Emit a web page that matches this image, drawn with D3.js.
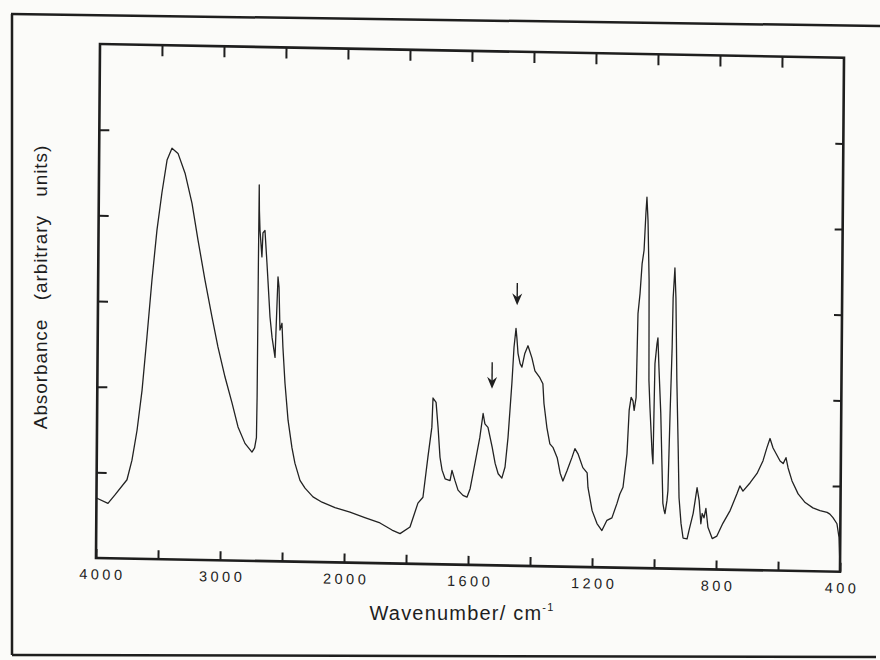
<!DOCTYPE html>
<html><head><meta charset="utf-8">
<script src="https://cdn.jsdelivr.net/npm/d3@7"></script>
<style>html,body{margin:0;padding:0;background:#fbfbf9;} svg{display:block}</style>
</head><body><svg id="c" width="880" height="660"></svg>
<script>
const wavenumber = [4000,3907,3851,3755,3716,3677,3639,3603,3566,3529,3491,3452,3413,3364,3306,3248,3197,3139,3080,3030,2971,2913,2863,2806,2749,2728,2714,2711,2709,2707,2704,2698,2681,2674,2658,2640,2631,2612,2594,2569,2550,2541,2531,2515,2506,2487,2460,2427,2402,2360,2319,2254,2181,2076,1982,1934,1885,1846,1820,1788,1763,1747,1732,1720,1717,1707,1700,1693,1686,1676,1660,1654,1644,1634,1618,1605,1595,1580,1565,1555,1549,1539,1525,1515,1505,1493,1483,1474,1463,1457,1451,1448,1444,1437,1431,1422,1412,1399,1389,1373,1363,1359,1349,1339,1329,1315,1305,1296,1283,1267,1258,1248,1232,1218,1215,1201,1185,1169,1153,1137,1121,1112,1102,1090,1084,1078,1072,1068,1062,1058,1052,1046,1040,1035,1032,1028,1023,1021,1017,1009,1006,1004,1002,996,993,989,982,977,973,969,966,960,957,952,947,945,940,936,931,925,921,914,907,894,888,875,869,863,856,850,846,840,834,827,813,798,779,756,734,725,715,692,670,651,639,629,619,596,586,577,570,557,537,514,489,466,443,434,424,411,404,400];
const absorbance = [0.70,0.64,0.74,0.92,1.15,1.50,1.97,2.59,3.26,3.84,4.28,4.66,4.80,4.74,4.51,4.16,3.73,3.27,2.84,2.49,2.14,1.84,1.56,1.37,1.27,1.32,1.44,1.91,3.48,4.39,4.09,3.86,3.55,3.83,3.86,3.48,3.28,2.85,2.61,2.38,3.32,3.20,2.70,2.78,2.50,2.08,1.65,1.33,1.15,0.95,0.86,0.76,0.70,0.64,0.59,0.53,0.47,0.39,0.35,0.43,0.71,0.78,1.25,1.60,1.94,1.89,1.60,1.25,1.10,1.00,0.98,1.10,0.98,0.87,0.81,0.79,0.89,1.19,1.49,1.77,1.65,1.61,1.38,1.19,1.07,1.02,1.15,1.50,2.13,2.55,2.77,2.66,2.48,2.36,2.32,2.48,2.57,2.43,2.28,2.20,2.13,1.90,1.62,1.43,1.39,1.27,1.09,1.00,1.12,1.28,1.38,1.32,1.16,1.10,0.93,0.66,0.51,0.43,0.55,0.58,0.75,0.86,0.94,1.33,1.84,1.99,1.95,1.84,1.99,2.97,3.20,3.55,3.71,4.14,4.33,4.06,3.36,2.19,1.87,1.34,1.22,1.81,2.39,2.62,2.69,2.34,1.81,1.22,0.76,0.68,0.64,0.79,0.91,1.81,2.58,3.16,3.51,3.16,2.20,1.41,0.83,0.53,0.36,0.35,0.45,0.65,0.80,0.95,0.80,0.53,0.65,0.60,0.71,0.49,0.36,0.39,0.54,0.69,0.89,0.98,0.92,1.02,1.13,1.28,1.43,1.54,1.43,1.28,1.25,1.32,1.20,1.05,0.90,0.80,0.74,0.71,0.69,0.67,0.63,0.56,0.40,0.05];
const xTickValues = [4000,3500,3000,2500,2000,1800,1600,1400,1200,1000,800,600,400];
const xTickLabels = [4000,3000,2000,1600,1200,800,400];
const yTickValues = [1,2,3,4,5];
const arrowWavenumbers = [1527,1448];
const arrowTips = [2.06,3.04];
const arrowTails = [2.37,3.30];
const xTitle = "Wavenumber/ cm";
const xTitleSup = "-1";
const yTitle = "Absorbance   (arbitrary   units)";

const W = 744, H = 514;
const ink = "#1e1e1e";
const x = d3.scaleLinear().domain([4000, 2000, 400]).range([0, W / 3, W]);
const y = d3.scaleLinear().domain([0, 6]).range([H, 0]);

const svg = d3.select("#c");

// scanned page border
const page = svg.append("g").attr("stroke", ink).attr("stroke-width", 2.5).attr("fill", "none");
page.append("path").attr("d", "M11,14 L880,26");
page.append("path").attr("d", "M12,14 L12,655");
page.append("path").attr("d", "M12,655 L876,657");

const g = svg.append("g").attr("transform", "matrix(1,0.0185,-0.0078,1,100,44)");

// axes
const lsTick = 3.5;
const axBottom = g.append("g").attr("transform", `translate(0,${H})`)
  .call(d3.axisBottom(x).tickValues(xTickValues).tickSizeInner(-9).tickSizeOuter(0).tickPadding(11)
    .tickFormat(d => xTickLabels.includes(d) ? String(d) : ""));
const axTop = g.append("g")
  .call(d3.axisTop(x).tickValues(xTickValues.slice(1, -1)).tickSizeInner(-11).tickSizeOuter(0).tickFormat(""));
const axLeft = g.append("g")
  .call(d3.axisLeft(y).tickValues(yTickValues).tickSizeInner(-10).tickSizeOuter(0).tickFormat(""));
const axRight = g.append("g").attr("transform", `translate(${W},0)`)
  .call(d3.axisRight(y).tickValues(yTickValues).tickSizeInner(-8).tickSizeOuter(0).tickFormat(""));
[axBottom, axTop, axLeft, axRight].forEach(a => {
  a.select(".domain").remove();
  a.selectAll(".tick line").attr("stroke", ink).attr("stroke-width", 2);
});
axBottom.selectAll(".tick text")
  .attr("fill", ink)
  .attr("font-family", "'Liberation Sans', Arial, sans-serif")
  .attr("font-size", 14.5)
  .attr("letter-spacing", lsTick)
  .attr("dx", d => d === 4000 ? 6 : lsTick / 2);

// frame
g.append("rect").attr("x", 0).attr("y", 0).attr("width", W).attr("height", H)
  .attr("fill", "none").attr("stroke", ink).attr("stroke-width", 2.6);

// spectrum
const pts = wavenumber.map((w, i) => ({ w, a: absorbance[i] }));
g.append("path").datum(pts)
  .attr("fill", "none").attr("stroke", "#222").attr("stroke-width", 1.3).attr("stroke-linejoin", "round")
  .attr("d", d3.line().x(d => x(d.w)).y(d => y(d.a)));

// arrows
arrowWavenumbers.forEach((w, i) => {
  const ax = x(w), tip = y(arrowTips[i]), tail = y(arrowTails[i]);
  g.append("line").attr("x1", ax).attr("x2", ax).attr("y1", tail).attr("y2", tip - 6)
    .attr("stroke", ink).attr("stroke-width", 1.4);
  g.append("path")
    .attr("d", `M${ax},${tip} L${ax - 5},${tip - 12} L${ax},${tip - 8} L${ax + 5},${tip - 12} Z`)
    .attr("fill", ink);
});

// titles
const xt = svg.append("text").attr("x", 462).attr("y", 620).attr("text-anchor", "middle")
  .attr("font-family", "'Liberation Sans', Arial, sans-serif").attr("font-size", 20)
  .attr("letter-spacing", 1.2).attr("fill", ink).style("white-space", "pre");
xt.append("tspan").text(xTitle);
xt.append("tspan").attr("dy", -9).attr("font-size", 11).text(xTitleSup);

svg.append("text")
  .attr("transform", "translate(47,287) rotate(-90)")
  .attr("text-anchor", "middle")
  .attr("font-family", "'Liberation Sans', Arial, sans-serif").attr("font-size", 19)
  .attr("letter-spacing", 0.9).attr("fill", ink).style("white-space", "pre")
  .text(yTitle);
</script></body></html>
